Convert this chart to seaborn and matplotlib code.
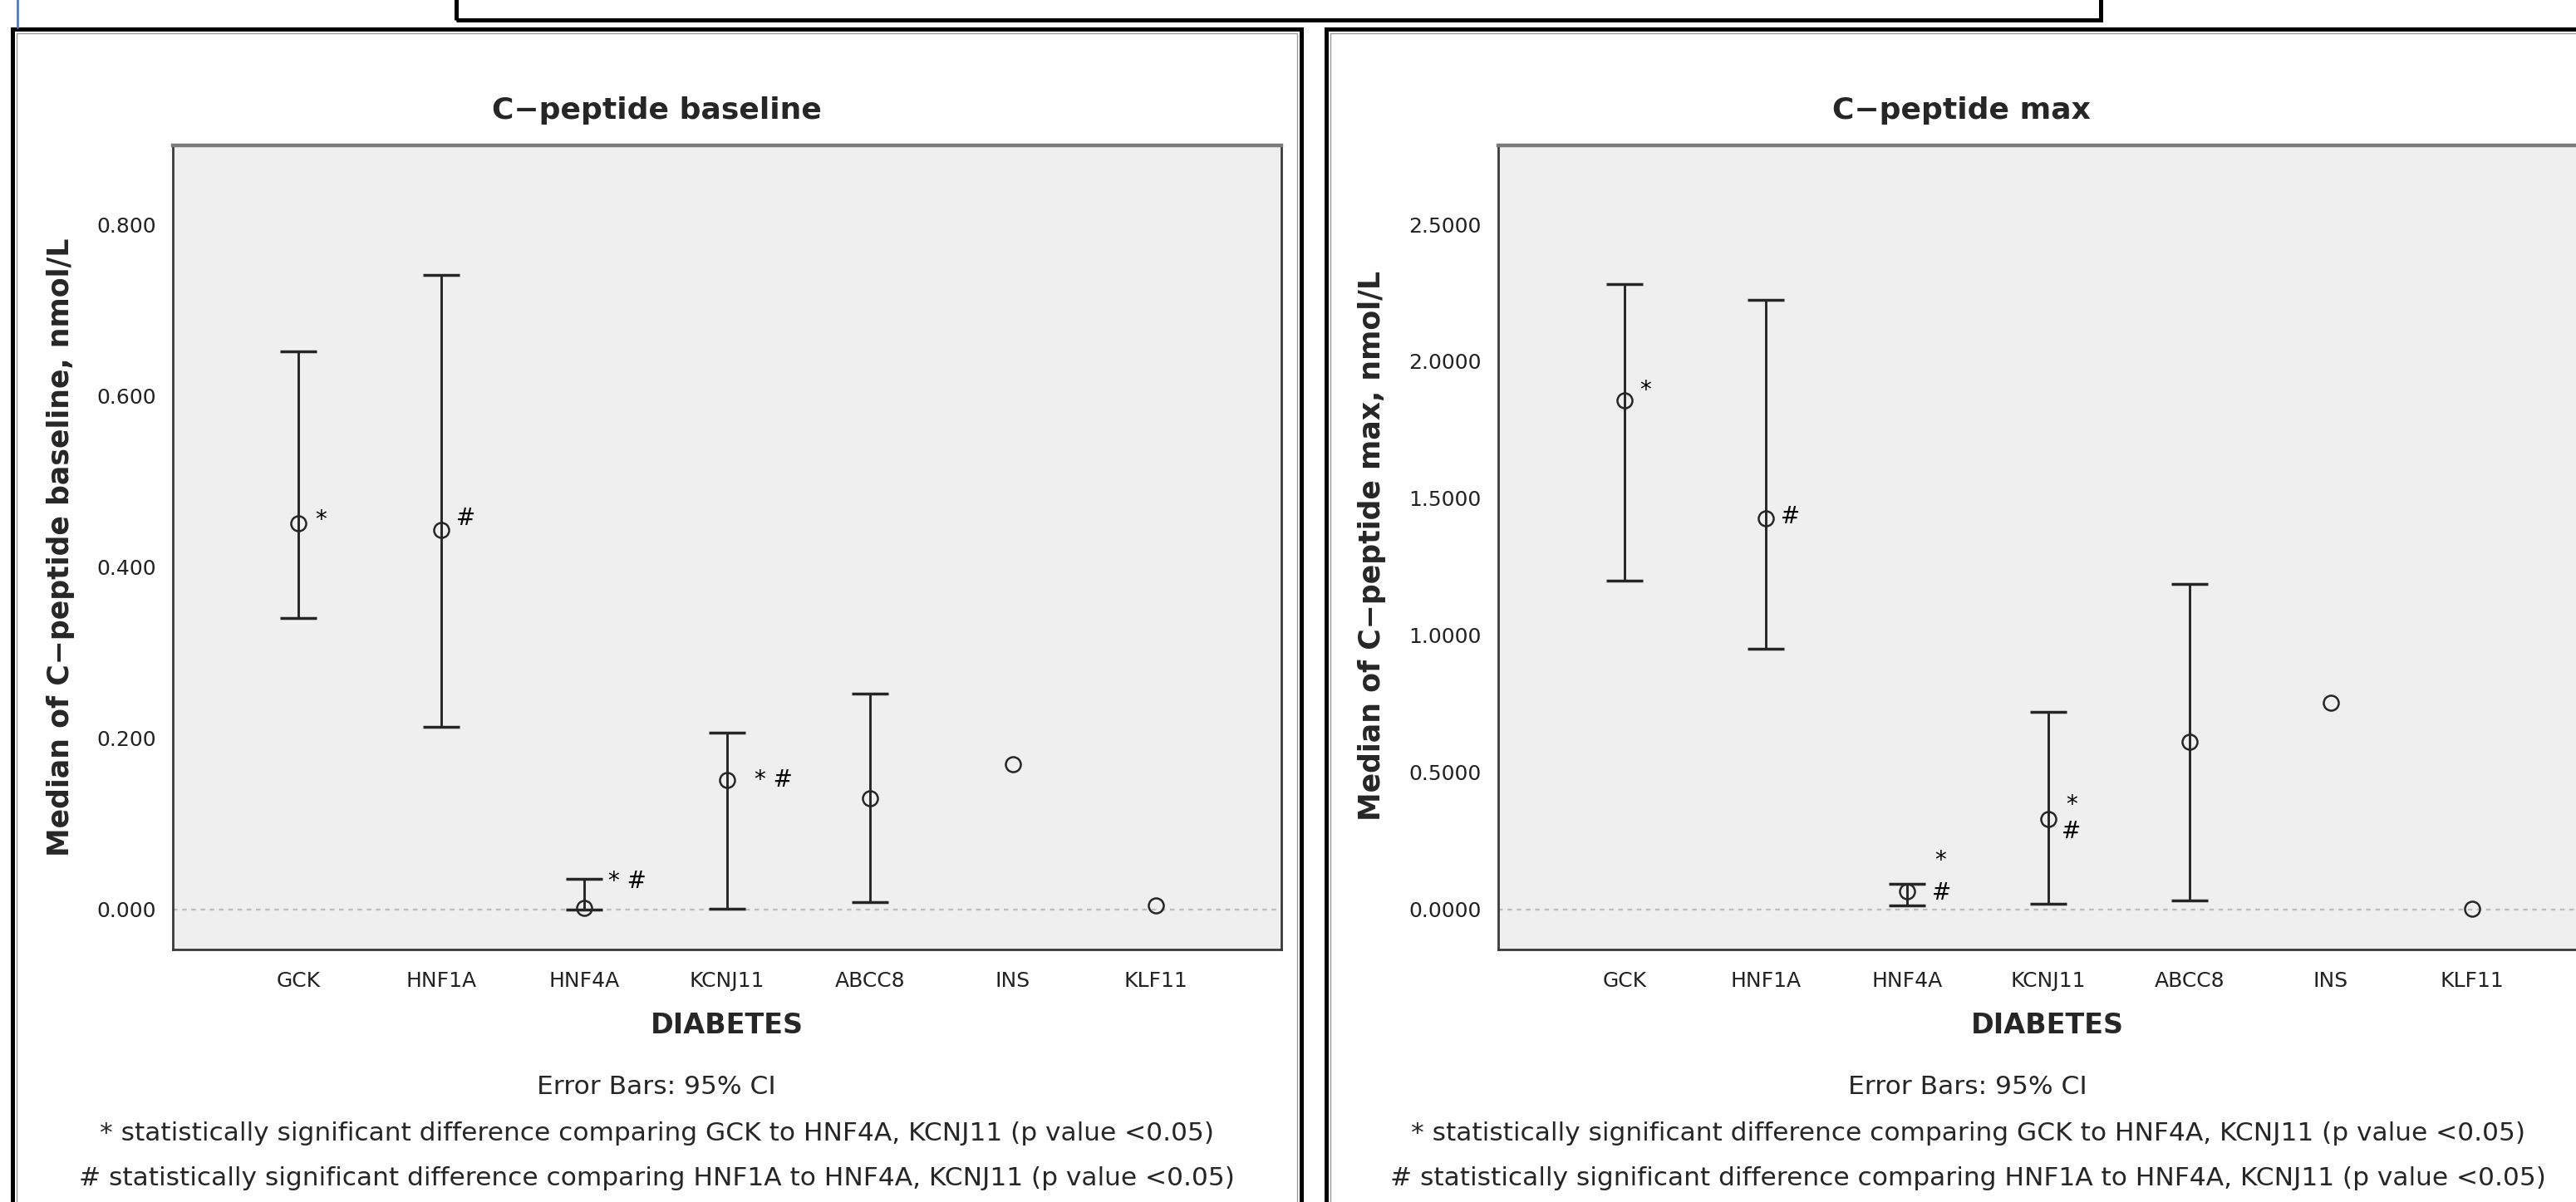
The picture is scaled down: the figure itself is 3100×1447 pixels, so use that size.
import numpy as np
import pandas as pd
import matplotlib
matplotlib.use("Agg")
import matplotlib.pyplot as plt
from matplotlib.patches import Rectangle
from matplotlib.lines import Line2D
import seaborn as sns

# -----------------------------
# Data
# -----------------------------
categories = ["GCK", "HNF1A", "HNF4A", "KCNJ11", "ABCC8", "INS", "KLF11"]

baseline_median = [0.451, 0.444, 0.002, 0.151, 0.130, 0.170, 0.005]
baseline_lo = [0.341, 0.213, 0.000, 0.001, 0.009, np.nan, np.nan]
baseline_hi = [0.652, 0.742, 0.036, 0.207, 0.252, np.nan, np.nan]

max_median = [1.856, 1.426, 0.067, 0.331, 0.613, 0.755, 0.003]
max_lo = [1.201, 0.950, 0.015, 0.021, 0.033, np.nan, np.nan]
max_hi = [2.283, 2.225, 0.094, 0.722, 1.189, np.nan, np.nan]

baseline_ticks = [0.0, 0.2, 0.4, 0.6, 0.8]
max_ticks = [0.0, 0.5, 1.0, 1.5, 2.0, 2.5]

# significance marks: (category, label, y value, x offset in points)
baseline_marks = [("GCK", "*", 0.455, 19), ("HNF1A", "#", 0.457, 21),
                  ("HNF4A", "* #", 0.033, 37), ("KCNJ11", "* #", 0.151, 40)]
max_marks = [("GCK", "*", 1.894, 18), ("HNF1A", "#", 1.433, 21),
             ("HNF4A", "*", 0.177, 29), ("HNF4A", "#", 0.061, 30),
             ("KCNJ11", "*", 0.380, 20), ("KCNJ11", "#", 0.283, 20)]

footnotes = ["Error Bars: 95% CI",
             "* statistically significant difference comparing GCK to HNF4A, KCNJ11 (p value <0.05)",
             "# statistically significant difference comparing HNF1A to HNF4A, KCNJ11 (p value <0.05)"]

# -----------------------------
# Figure
# -----------------------------
sns.set_style("white")
plt.rcParams["font.family"] = ["DejaVu Sans"]

W, H = 3100, 1447
fig = plt.figure(figsize=(W / 100, H / 100), dpi=100)
fig.patch.set_facecolor("white")


def fx(px):
    return px / W


def fy(py):
    return 1 - py / H


INK = "#262626"


def draw_panel(rect, xlim, med, lo, hi, ticks, fmt, ylim, marks):
    ax = fig.add_axes(rect)
    ax.set_facecolor("#efefef")
    med = np.array(med)
    lo = np.array(lo)
    hi = np.array(hi)
    xs = np.arange(len(categories))

    ax.axhline(0, color="#bdbdbd", lw=1.6, ls=(0, (2.5, 2.5)), zorder=1)

    ax.errorbar(xs, med, yerr=[med - lo, hi - med], fmt="none",
                ecolor=INK, elinewidth=2.1, capsize=15.5, capthick=2.5,
                zorder=2)

    df = pd.DataFrame({"DIABETES": categories, "value": med})
    sns.pointplot(data=df, x="DIABETES", y="value", order=categories,
                  errorbar=None, linestyle="none", marker="o",
                  color=INK, markersize=13, markerfacecolor="none",
                  markeredgewidth=1.8, ax=ax, zorder=3)

    for cat, lab, yv, dx in marks:
        ax.annotate(lab, xy=(categories.index(cat), yv), xytext=(dx, 0),
                    textcoords="offset points", ha="center", va="center",
                    fontsize=20, color="black", zorder=4)

    ax.set_xlim(*xlim)
    ax.set_ylim(*ylim)
    ax.set_yticks(ticks)
    ax.set_yticklabels([fmt % t for t in ticks])
    ax.set_xticks(xs)
    ax.set_xticklabels(categories)
    ax.set_xlabel("")
    ax.set_ylabel("")
    ax.tick_params(axis="both", direction="out", length=11.5, width=1.6,
                   color="#3a3a3a", labelsize=18, labelcolor="#222222")
    ax.tick_params(axis="x", pad=7)
    ax.tick_params(axis="y", pad=3)
    for side in ["left", "bottom", "right"]:
        ax.spines[side].set_color("#3a3a3a")
        ax.spines[side].set_linewidth(2.0)
    ax.spines["top"].set_color("#7a7a7a")
    ax.spines["top"].set_linewidth(3.2)
    return ax


bottom = fy(1143)
height = (1143 - 175) / H

ax1 = draw_panel([fx(208), bottom, fx(1334), height], (-0.88, 6.88),
                 baseline_median, baseline_lo, baseline_hi,
                 baseline_ticks, "%.3f", (-0.0467, 0.893), baseline_marks)
ax2 = draw_panel([fx(1803), bottom, fx(1324), height], (-0.894, 6.894),
                 max_median, max_lo, max_hi,
                 max_ticks, "%.4f", (-0.146, 2.788), max_marks)

# -----------------------------
# Texts
# -----------------------------
panels = [(790, 875, 73, 659, "C\u2212peptide baseline",
           "Median of C\u2212peptide baseline, nmol/L", 790),
          (2360, 2464, 1651, 657, "C\u2212peptide max",
           "Median of C\u2212peptide max, nmol/L", 2368)]

for tx, axc, ylx, yly, title, ylab, fnx in panels:
    fig.text(fx(tx), fy(133), title, ha="center", va="center",
             fontsize=26, fontweight="bold")
    fig.text(fx(ylx), fy(yly), ylab, ha="center", va="center",
             rotation=90, fontsize=25, fontweight="bold")
    fig.text(fx(axc), fy(1235), "DIABETES", ha="center", va="center",
             fontsize=24, fontweight="bold")
    for line, yb in zip(footnotes, [1317, 1373, 1427]):
        fig.text(fx(fnx), fy(yb), line, ha="center", va="baseline",
                 fontsize=22.5)

# -----------------------------
# Frames
# -----------------------------
def frame(x0, y0, x1, y1, color, lw):
    fig.add_artist(Rectangle((fx(x0), fy(y1)), fx(x1 - x0), (y1 - y0) / H,
                             transform=fig.transFigure, fill=False,
                             edgecolor=color, linewidth=lw, clip_on=False))


frame(15, 35, 1566, 1600, "black", 3.6)
frame(20, 40, 1561, 1600, "#9a9a9a", 1.0)
frame(1596, 35, 3200, 1600, "black", 3.6)
frame(1601, 40, 3200, 1600, "#9a9a9a", 1.0)
frame(549, -40, 2528, 24, "black", 3.6)

fig.add_artist(Line2D([fx(21), fx(21)], [fy(0), fy(33)],
                      transform=fig.transFigure, color="#4a7ec6", lw=2))

plt.savefig("out.png", dpi=100)
plt.close()
